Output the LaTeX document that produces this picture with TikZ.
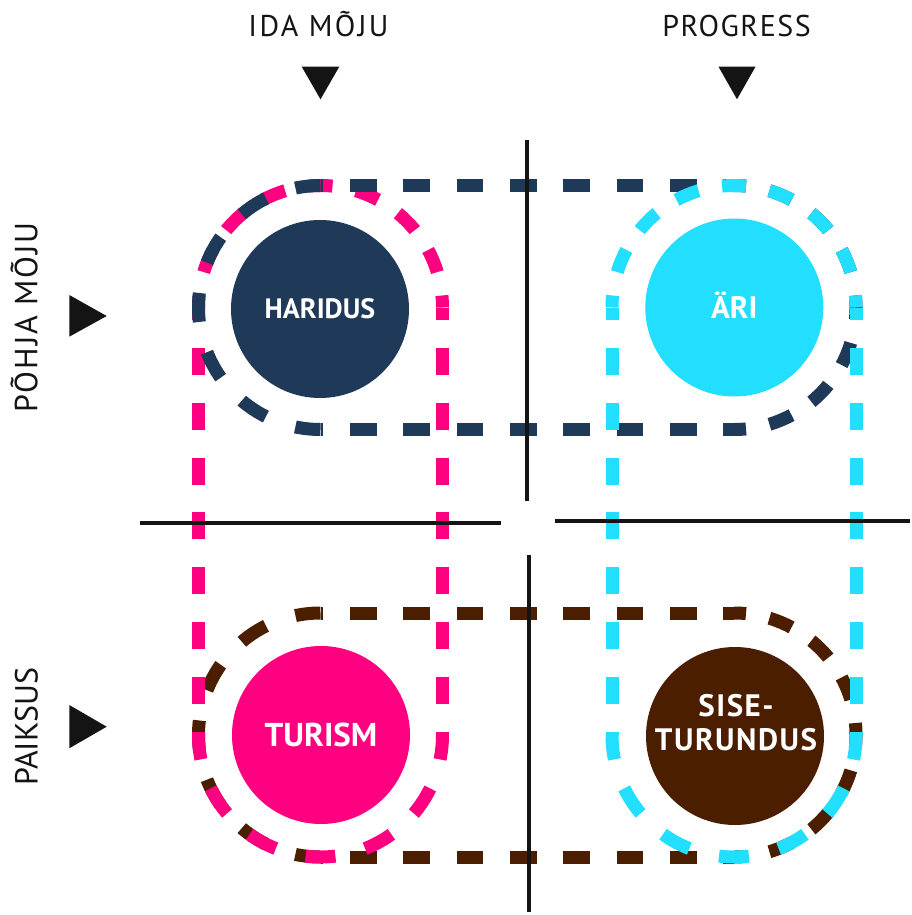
\documentclass[tikz,border=0pt]{standalone}
\usepackage{fontspec}
\setmainfont{PT Sans}
\usetikzlibrary{calc}
\definecolor{navy}{HTML}{1F3A59}
\definecolor{cyanb}{HTML}{22DFFF}
\definecolor{pinkb}{HTML}{FF0080}
\definecolor{brownb}{HTML}{4B1E00}
\definecolor{ink}{HTML}{141414}
\begin{document}
\begin{tikzpicture}[x=1pt,y=-1pt,
  rim/.style={line width=13pt},
  straightH/.style={dash pattern=on 26.67pt off 26.67pt, dash phase=23.8pt},
  straightV/.style={dash pattern=on 27pt off 27.85pt, dash phase=14.5pt},
  arceight/.style={dash pattern=on 24pt off 23.91pt, dash phase=12pt},
  arcleft/.style={dash pattern=on 29pt off 31.3pt, dash phase=3.8pt},
  arcbottom/.style={dash pattern=on 30pt off 30.7pt, dash phase=5.5pt},
  axis/.style={draw=ink, line width=3.7pt},
  tri/.style={fill=ink, draw=none},
  circ/.style={circle, minimum size=178pt, inner sep=0pt, draw=none},
  clabel/.style={text=white, inner sep=0pt, align=center},
  hlabel/.style={inner sep=0pt, anchor=base, text=ink},
  vlabel/.style={hlabel, rotate=90},
]
\fill[white] (0,0) rectangle (911,915);
\useasboundingbox (0,0) rectangle (911,915);

\coordinate (A) at (320.5,307.5);
\coordinate (B) at (734,307.5);
\coordinate (C) at (320.5,735);
\coordinate (D) at (734,735);

% circles
\node[circ, fill=navy] (har) at (320,309) {};
\node[circ, fill=cyanb] (ari) at (734.3,307.5) {};
\node[circ, fill=pinkb] (tur) at (321,735) {};
\node[circ, fill=brownb] (sise) at (735,736) {};

% brown stadium
\draw[rim, brownb, straightH] ($(C)+(0,-122)$) -- ($(D)+(0,-122)$);
\draw[rim, brownb, straightH] ($(C)+(0,122)$) -- ($(D)+(0,122)$);
\draw[rim, brownb, arcleft] ($(C)+(0,-122)$) arc[start angle=270, end angle=90, radius=122];
\draw[rim, brownb, arceight] ($(D)+(0,-122)$) arc[start angle=-90, end angle=90, radius=122];

% pink stadium
\draw[rim, pinkb, straightV] ($(A)+(-122,0)$) -- ($(C)+(-122,0)$);
\draw[rim, pinkb, straightV] ($(A)+(122,0)$) -- ($(C)+(122,0)$);
\draw[rim, pinkb, arceight] ($(A)+(122,0)$) arc[start angle=0, end angle=-180, radius=122];
\draw[rim, pinkb, arcbottom] ($(C)+(-122,0)$) arc[start angle=180, end angle=0, radius=122];

% navy stadium
\draw[rim, navy, straightH] ($(A)+(0,-122)$) -- ($(B)+(0,-122)$);
\draw[rim, navy, straightH] ($(A)+(0,122)$) -- ($(B)+(0,122)$);
\draw[rim, navy, arcleft] ($(A)+(0,-122)$) arc[start angle=270, end angle=90, radius=122];
\draw[rim, navy, arceight] ($(B)+(0,-122)$) arc[start angle=-90, end angle=90, radius=122];

% cyan stadium
\draw[rim, cyanb, straightV] ($(B)+(-122,0)$) -- ($(D)+(-122,0)$);
\draw[rim, cyanb, straightV] ($(B)+(122,0)$) -- ($(D)+(122,0)$);
\draw[rim, cyanb, arceight] ($(B)+(122,0)$) arc[start angle=0, end angle=-180, radius=122];
\draw[rim, cyanb, arcbottom] ($(D)+(-122,0)$) arc[start angle=180, end angle=0, radius=122];

% circle labels
\node[clabel, text height=19.5pt, text depth=0pt, font=\fontsize{28}{33}\selectfont\bfseries] at (har.center) {HARIDUS};
\node[clabel, text height=21pt, text depth=0pt, font=\fontsize{31}{36}\selectfont\bfseries] at (ari.center) {ÄRI};
\node[clabel, text height=23pt, text depth=0pt, font=\fontsize{33}{38}\selectfont\bfseries] at (tur.center) {TURISM};
\node[clabel, font=\fontsize{31}{33.3}\selectfont\bfseries\addfontfeature{LetterSpace=5}] at (736,722.5) {SISE-\\TURUNDUS};

% axes
\coordinate (vt1) at (527,140); \coordinate (vt2) at (527,501);
\coordinate (vb1) at (529,555); \coordinate (vb2) at (529,912);
\coordinate (hl1) at (140,523); \coordinate (hl2) at (501,523);
\coordinate (hr1) at (555,521); \coordinate (hr2) at (910,521);
\draw[axis] (vt1) -- (vt2);
\draw[axis] (vb1) -- (vb2);
\draw[axis] (hl1) -- (hl2);
\draw[axis] (hr1) -- (hr2);

% axis labels
\node[hlabel, font=\fontsize{30}{35}\selectfont\addfontfeature{LetterSpace=8}] (ida) at (318.5,36.7) {IDA MÕJU};
\node[hlabel, font=\fontsize{30}{35}\selectfont\addfontfeature{LetterSpace=5}] (prog) at (736.5,37) {PROGRESS};
\node[vlabel, font=\fontsize{32}{38}\selectfont\addfontfeature{LetterSpace=6}] (pohja) at (37.3,317.4) {PÕHJA MÕJU};
\node[vlabel, font=\fontsize{32}{38}\selectfont] (paik) at (37.5,726.7) {PAIKSUS};

% triangles
\fill[tri] (301.7,66.7) -- (339.3,66.7) -- (320.5,99.3) -- cycle;
\fill[tri] (718.5,66.7) -- (755.5,66.7) -- (737,99.3) -- cycle;
\fill[tri] (69.3,295) -- (106.7,316) -- (69.3,336.7) -- cycle;
\fill[tri] (69.3,705) -- (106.7,726.7) -- (69.3,748.3) -- cycle;
\end{tikzpicture}
\end{document}
